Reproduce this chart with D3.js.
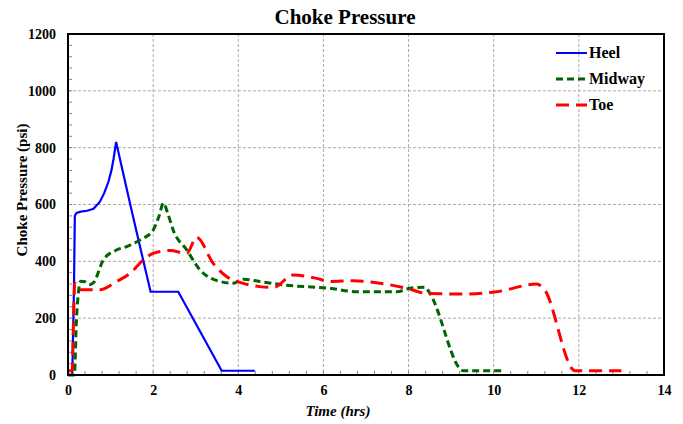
<!DOCTYPE html>
<html>
<head>
<meta charset="utf-8">
<script src="https://cdn.jsdelivr.net/npm/d3@7"></script>
<style>
  body { margin: 0; background: #fff; }
  text { font-family: "Liberation Serif", "Times New Roman", serif; font-weight: bold; }
</style>
</head>
<body>
<div id="chart"></div>
<script>
// time (hrs) and pressure (psi)
const heelT = [0, 0.1, 0.14, 0.16, 0.2, 0.3, 0.45, 0.6, 0.75, 0.85, 0.95, 1.02, 1.07, 1.13, 1.5, 1.94, 2.59, 3.61, 4.39];
const heelP = [0, 0, 300, 560, 570, 575, 578, 585, 610, 640, 680, 720, 760, 820, 575, 293, 293, 15, 15];

const midT = [0, 0.15, 0.2, 0.3, 0.4, 0.5, 0.6, 0.83, 1.14, 1.38, 1.69, 2.0, 2.14, 2.24, 2.34, 2.47, 2.79, 3.1, 3.57, 3.88, 4.12, 4.5, 5.06, 6.15, 6.78, 7.72, 8.03, 8.39, 8.5, 9.29, 10.27];
const midP = [0, 0, 200, 330, 328, 318, 325, 405, 440, 452, 475, 510, 560, 605, 570, 510, 440, 370, 329, 323, 337, 329, 317, 305, 293, 293, 305, 309, 287, 15, 15];

const toeT = [0, 0.1, 0.13, 0.16, 0.28, 0.75, 1.14, 1.46, 1.77, 2.0, 2.4, 2.79, 3.02, 3.41, 3.73, 4.04, 4.5, 4.82, 5.29, 5.84, 6.15, 6.7, 7.33, 7.96, 8.43, 9.29, 10.07, 11.01, 11.17, 11.91, 13.0];
const toeP = [15, 15, 200, 323, 300, 300, 329, 358, 405, 428, 438, 428, 485, 393, 346, 326, 311, 308, 352, 340, 329, 332, 323, 305, 287, 285, 293, 320, 305, 15, 15];

const seriesNames = ['Heel', 'Midway', 'Toe'];
const seriesColors = ['#0000ff', '#006400', '#ff0000'];
const seriesDash = [null, '7,4', '13,7'];
const xTicks = [0, 2, 4, 6, 8, 10, 12, 14];
const yTicks = [0, 200, 400, 600, 800, 1000, 1200];

const width = 683, height = 424;
const margin = { left: 68, right: 19, top: 34, bottom: 49 };
const iw = width - margin.left - margin.right;
const ih = height - margin.top - margin.bottom;

const svg = d3.select('#chart').append('svg')
  .attr('width', width).attr('height', height);

const x = d3.scaleLinear().domain([0, 14]).range([0, iw]);
const y = d3.scaleLinear().domain([0, 1200]).range([ih, 0]);

const g = svg.append('g').attr('transform', 'translate(' + margin.left + ',' + margin.top + ')');

// grid
g.append('g').selectAll('line').data(xTicks.slice(1, -1)).enter().append('line')
  .attr('x1', d => x(d)).attr('x2', d => x(d)).attr('y1', 0).attr('y2', ih)
  .attr('stroke', '#aaa').attr('stroke-width', 1).attr('stroke-dasharray', '3,2');
g.append('g').selectAll('line').data(yTicks.slice(1, -1)).enter().append('line')
  .attr('y1', d => y(d)).attr('y2', d => y(d)).attr('x1', 0).attr('x2', iw)
  .attr('stroke', '#aaa').attr('stroke-width', 1).attr('stroke-dasharray', '3,2');

// minor ticks
g.append('g').selectAll('line').data(d3.range(0, 14.01, 0.4)).enter().append('line')
  .attr('x1', d => x(d)).attr('x2', d => x(d)).attr('y1', ih).attr('y2', ih - 4)
  .attr('stroke', '#888');
g.append('g').selectAll('line').data(d3.range(0, 1201, 40)).enter().append('line')
  .attr('y1', d => y(d)).attr('y2', d => y(d)).attr('x1', 0).attr('x2', 4)
  .attr('stroke', '#888');

// axes
const xAxis = g.append('g').attr('transform', 'translate(0,' + ih + ')')
  .call(d3.axisBottom(x).tickValues(xTicks).tickFormat(d3.format('d')).tickSize(0).tickPadding(10));
const yAxis = g.append('g')
  .call(d3.axisLeft(y).tickValues(yTicks).tickFormat(d3.format('d')).tickSize(0).tickPadding(12));
[xAxis, yAxis].forEach(a => {
  a.select('.domain').remove();
  a.selectAll('text').attr('font-size', 14).attr('fill', '#000')
    .attr('font-family', '"Liberation Serif", serif').attr('font-weight', 'bold');
});

// series
const all = [
  heelT.map((t, i) => [t, heelP[i]]),
  midT.map((t, i) => [t, midP[i]]),
  toeT.map((t, i) => [t, toeP[i]])
];
const lineLin = d3.line().x(d => x(d[0])).y(d => y(d[1]));
const lineSmooth = d3.line().x(d => x(d[0])).y(d => y(d[1])).curve(d3.curveMonotoneX);

all.forEach((data, i) => {
  g.append('path')
    .datum(data)
    .attr('d', i === 0 ? lineLin : lineSmooth)
    .attr('fill', 'none')
    .attr('stroke', seriesColors[i])
    .attr('stroke-width', i === 0 ? 2.2 : 3)
    .attr('stroke-dasharray', seriesDash[i]);
});

// frame
g.append('rect').attr('width', iw).attr('height', ih)
  .attr('fill', 'none').attr('stroke', '#000').attr('stroke-width', 2);

// legend
const legend = svg.append('g').attr('transform', 'translate(556,53)');
seriesNames.forEach((name, i) => {
  const row = legend.append('g').attr('transform', 'translate(0,' + (i * 26) + ')');
  row.append('line').attr('x1', 0).attr('x2', 31).attr('y1', 0).attr('y2', 0)
    .attr('stroke', seriesColors[i]).attr('stroke-width', i === 0 ? 2 : 3)
    .attr('stroke-dasharray', seriesDash[i]);
  row.append('text').attr('x', 33).attr('y', 5).attr('font-size', 16).text(name);
});

// titles
svg.append('text').attr('x', 345).attr('y', 24).attr('text-anchor', 'middle')
  .attr('font-size', 21).text('Choke Pressure');
svg.append('text').attr('x', 338).attr('y', 416).attr('text-anchor', 'middle')
  .attr('font-size', 15).attr('font-style', 'italic').text('Time (hrs)');
svg.append('text').attr('transform', 'translate(27,190) rotate(-90)')
  .attr('text-anchor', 'middle').attr('font-size', 15).text('Choke Pressure (psi)');
</script>
</body>
</html>
